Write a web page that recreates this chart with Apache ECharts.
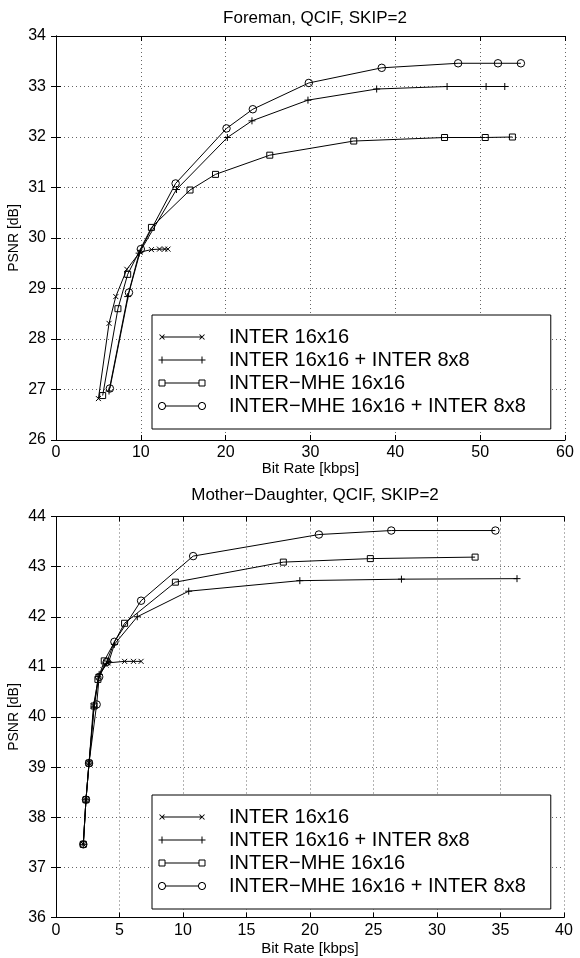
<!DOCTYPE html>
<html>
<head>
<meta charset="utf-8">
<script src="https://cdn.jsdelivr.net/npm/echarts@6/dist/echarts.min.js"></script>
<style>html,body{margin:0;padding:0;background:#fff;}#c{width:580px;height:958px;}</style>
</head>
<body>
<div id="c"></div>
<script>
// ---------- data ----------
const seriesNames = ['INTER 16x16', 'INTER 16x16 + INTER 8x8', 'INTER\u2212MHE 16x16', 'INTER\u2212MHE 16x16 + INTER 8x8'];
const titleTop = 'Foreman, QCIF, SKIP=2';
const titleBottom = 'Mother\u2212Daughter, QCIF, SKIP=2';
const xName = 'Bit Rate [kbps]';
const yName = 'PSNR [dB]';

// Foreman: [bit rate, PSNR]
const foremanInter = [[5.0,26.82],[6.25,28.31],[7.05,28.84],[8.35,29.38],[9.9,29.72],[11.25,29.77],[12.2,29.78],[12.8,29.78],[13.2,29.78]];
const foremanInter8 = [[6.25,26.97],[8.45,28.84],[9.8,29.7],[14.2,30.96],[20.2,31.99],[23.1,32.32],[29.7,32.73],[37.8,32.95],[46.1,33.0],[50.7,33.0],[52.9,33.0]];
const foremanMhe = [[5.5,26.88],[7.3,28.6],[8.45,29.28],[11.25,30.21],[15.8,30.95],[18.8,31.26],[25.2,31.64],[35.1,31.92],[45.8,31.99],[50.6,31.99],[53.8,32.0]];
const foremanMhe8 = [[6.35,27.02],[8.6,28.92],[10.0,29.78],[14.1,31.08],[20.1,32.17],[23.2,32.55],[29.8,33.07],[38.4,33.37],[47.4,33.46],[52.1,33.46],[54.8,33.46]];

// Mother-Daughter
const mdInter = [[2.15,37.46],[2.36,38.35],[2.6,39.08],[2.95,40.22],[3.35,40.8],[3.85,41.05],[4.1,41.08],[5.4,41.11],[6.1,41.11],[6.7,41.11]];
const mdInter8 = [[2.15,37.46],[2.36,38.35],[2.6,39.08],[3.0,40.2],[3.4,40.85],[4.15,41.1],[4.6,41.45],[6.4,42.0],[10.45,42.51],[19.2,42.72],[27.2,42.75],[36.3,42.76]];
const mdMhe = [[2.15,37.46],[2.36,38.35],[2.6,39.08],[3.0,40.22],[3.3,40.75],[3.8,41.12],[5.4,41.87],[9.4,42.69],[17.9,43.09],[24.75,43.16],[33.0,43.19]];
const mdMhe8 = [[2.15,37.46],[2.36,38.35],[2.6,39.08],[3.2,40.25],[3.4,40.8],[4.0,41.1],[4.6,41.5],[6.7,42.32],[10.8,43.21],[20.7,43.64],[26.4,43.72],[34.6,43.72]];

const topX = {min: 0, max: 60, interval: 10};
const topY = {min: 26, max: 34, interval: 1};
const botX = {min: 0, max: 40, interval: 5};
const botY = {min: 36, max: 44, interval: 1};

// ---------- styling helpers ----------
const FONT = '"Liberation Sans", Arial, Helvetica, sans-serif';
const symbols = [
  'path://M0,0L10,10M10,0L0,10',
  'path://M5,0L5,10M0,5L10,5',
  'rect',
  'circle'
];
const symbolSizes = [5, 7, 6, 7.5];

// legend icon paths (filled outlines)
function seg(x1, y1, x2, y2, w) {
  const dx = x2 - x1, dy = y2 - y1, L = Math.hypot(dx, dy);
  const ux = -dy / L * w / 2, uy = dx / L * w / 2;
  const p = [[x1+ux,y1+uy],[x2+ux,y2+uy],[x2-ux,y2-uy],[x1-ux,y1-uy]];
  return 'M' + p.map(q => q[0].toFixed(2) + ',' + q[1].toFixed(2)).join('L') + 'Z';
}
function ring(cx, cy, r, w) {
  let s = '';
  const n = 28;
  let o = [], i = [];
  for (let k = 0; k < n; k++) {
    const t = -2 * Math.PI * k / n;
    o.push([cx + (r + w/2) * Math.cos(t), cy + (r + w/2) * Math.sin(t)]);
  }
  for (let k = 0; k < n; k++) {
    const t = 2 * Math.PI * k / n;
    i.push([cx + (r - w/2) * Math.cos(t), cy + (r - w/2) * Math.sin(t)]);
  }
  s += 'M' + o.map(q => q[0].toFixed(2) + ',' + q[1].toFixed(2)).join('L') + 'Z';
  s += 'M' + i.map(q => q[0].toFixed(2) + ',' + q[1].toFixed(2)).join('L') + 'Z';
  return s;
}
const IW = 66, IH = 10, A = 4, B = 44, CY = 5, LW = 1;
const frame = 'M0,0Z M' + IW + ',' + IH + 'Z ';
function legendIcon(k) {
  let s = frame;
  if (k === 0) {
    s += seg(A, CY, B, CY, LW);
    [A, B].forEach(c => { s += seg(c-2.5, CY-2.5, c+2.5, CY+2.5, LW); s += seg(c-2.5, CY+2.5, c+2.5, CY-2.5, LW); });
  } else if (k === 1) {
    s += seg(A-3.5, CY, B+3.5, CY, LW);
    [A, B].forEach(c => { s += seg(c, CY-3.5, c, CY+3.5, LW); });
  } else if (k === 2) {
    s += seg(A+3, CY, B-3, CY, LW);
    [A, B].forEach(c => {
      s += seg(c-3, CY-3, c+3, CY-3, LW); s += seg(c+3, CY-3, c+3, CY+3, LW);
      s += seg(c+3, CY+3, c-3, CY+3, LW); s += seg(c-3, CY+3, c-3, CY-3, LW);
    });
  } else {
    s += seg(A+3.5, CY, B-3.5, CY, LW);
    [A, B].forEach(c => { s += ring(c, CY, 3.5, LW); });
  }
  return 'path://' + s;
}

function mkAxes(g, xs, ys, xGap) {
  const grid = '#000';
  const split = {show: true, lineStyle: {color: '#666', width: 1, type: [1, 3]}};
  const x = [
    {type: 'value', gridIndex: g, position: 'bottom', min: xs.min, max: xs.max, interval: xs.interval,
     name: xName, nameLocation: 'middle', nameGap: xGap, nameMoveOverlap: false,
     nameTextStyle: {fontFamily: FONT, fontSize: 15, color: '#000'},
     axisLine: {show: true, lineStyle: {color: grid, width: 1}},
     axisTick: {show: true, inside: true, length: 5, lineStyle: {color: grid}},
     axisLabel: {fontFamily: FONT, fontSize: 16, color: '#000', margin: 5},
     splitLine: split},
    {type: 'value', gridIndex: g, position: 'top', min: xs.min, max: xs.max, interval: xs.interval,
     axisLine: {show: true, lineStyle: {color: grid, width: 1}},
     axisTick: {show: true, inside: true, length: 5, lineStyle: {color: grid}},
     axisLabel: {show: false}, splitLine: {show: false}}
  ];
  const y = [
    {type: 'value', gridIndex: g, position: 'left', min: ys.min, max: ys.max, interval: ys.interval,
     name: yName, nameLocation: 'middle', nameGap: 35, nameRotate: 90, nameMoveOverlap: false,
     nameTextStyle: {fontFamily: FONT, fontSize: 14, color: '#000'},
     axisLine: {show: true, lineStyle: {color: grid, width: 1}},
     axisTick: {show: true, inside: true, length: 5, lineStyle: {color: grid}},
     axisLabel: {fontFamily: FONT, fontSize: 16, color: '#000', margin: 10},
     splitLine: split},
    {type: 'value', gridIndex: g, position: 'right', min: ys.min, max: ys.max, interval: ys.interval,
     axisLine: {show: true, lineStyle: {color: grid, width: 1}},
     axisTick: {show: true, inside: true, length: 5, lineStyle: {color: grid}},
     axisLabel: {show: false}, splitLine: {show: false}}
  ];
  return {x, y};
}

function mkSeries(datasets, axisIdx) {
  return datasets.map((d, k) => ({
    type: 'line', name: seriesNames[k], data: d,
    xAxisIndex: axisIdx, yAxisIndex: axisIdx,
    symbol: symbols[k], symbolSize: symbolSizes[k],
    showSymbol: true, animation: false, silent: true,
    lineStyle: {color: '#000', width: 1},
    itemStyle: {color: 'rgba(0,0,0,0)', borderColor: '#000', borderWidth: 1},
    emphasis: {disabled: true},
    z: 3
  }));
}

function mkLegend(top) {
  return {
    orient: 'vertical', left: 152, top: top,
    itemWidth: IW, itemHeight: IH, itemGap: 3,
    padding: [12, 25, 13, 6],
    borderColor: '#000', borderWidth: 1, backgroundColor: '#fff',
    selectedMode: false,
    textStyle: {fontFamily: FONT, fontSize: 20, color: '#000', lineHeight: 20},
    itemStyle: {color: '#000', borderWidth: 0, borderColor: 'rgba(0,0,0,0)'},
    data: seriesNames.map((n, k) => ({name: n, icon: legendIcon(k)}))
  };
}

const a0 = mkAxes(0, topX, topY, 21);
const a1 = mkAxes(1, botX, botY, 24);

const option = {
  animation: false,
  backgroundColor: '#fff',
  title: [
    {text: titleTop, left: 310, top: 5, textAlign: 'center',
     textStyle: {fontFamily: FONT, fontSize: 17, fontWeight: 'normal', color: '#000'}},
    {text: titleBottom, left: 310, top: 482, textAlign: 'center',
     textStyle: {fontFamily: FONT, fontSize: 17, fontWeight: 'normal', color: '#000'}}
  ],
  grid: [
    {left: 56, top: 36, width: 509, height: 404, containLabel: false, outerBoundsMode: 'none'},
    {left: 56, top: 516.5, width: 508, height: 401, containLabel: false, outerBoundsMode: 'none'}
  ],
  xAxis: [...a0.x, ...a1.x],
  yAxis: [...a0.y, ...a1.y],
  legend: [mkLegend(315), mkLegend(795)],
  series: [
    ...mkSeries([foremanInter, foremanInter8, foremanMhe, foremanMhe8], 0),
    ...mkSeries([mdInter, mdInter8, mdMhe, mdMhe8], 2)
  ]
};

const chart = echarts.init(document.getElementById('c'), null, {renderer: 'canvas'});
chart.setOption(option);
</script>
</body>
</html>
